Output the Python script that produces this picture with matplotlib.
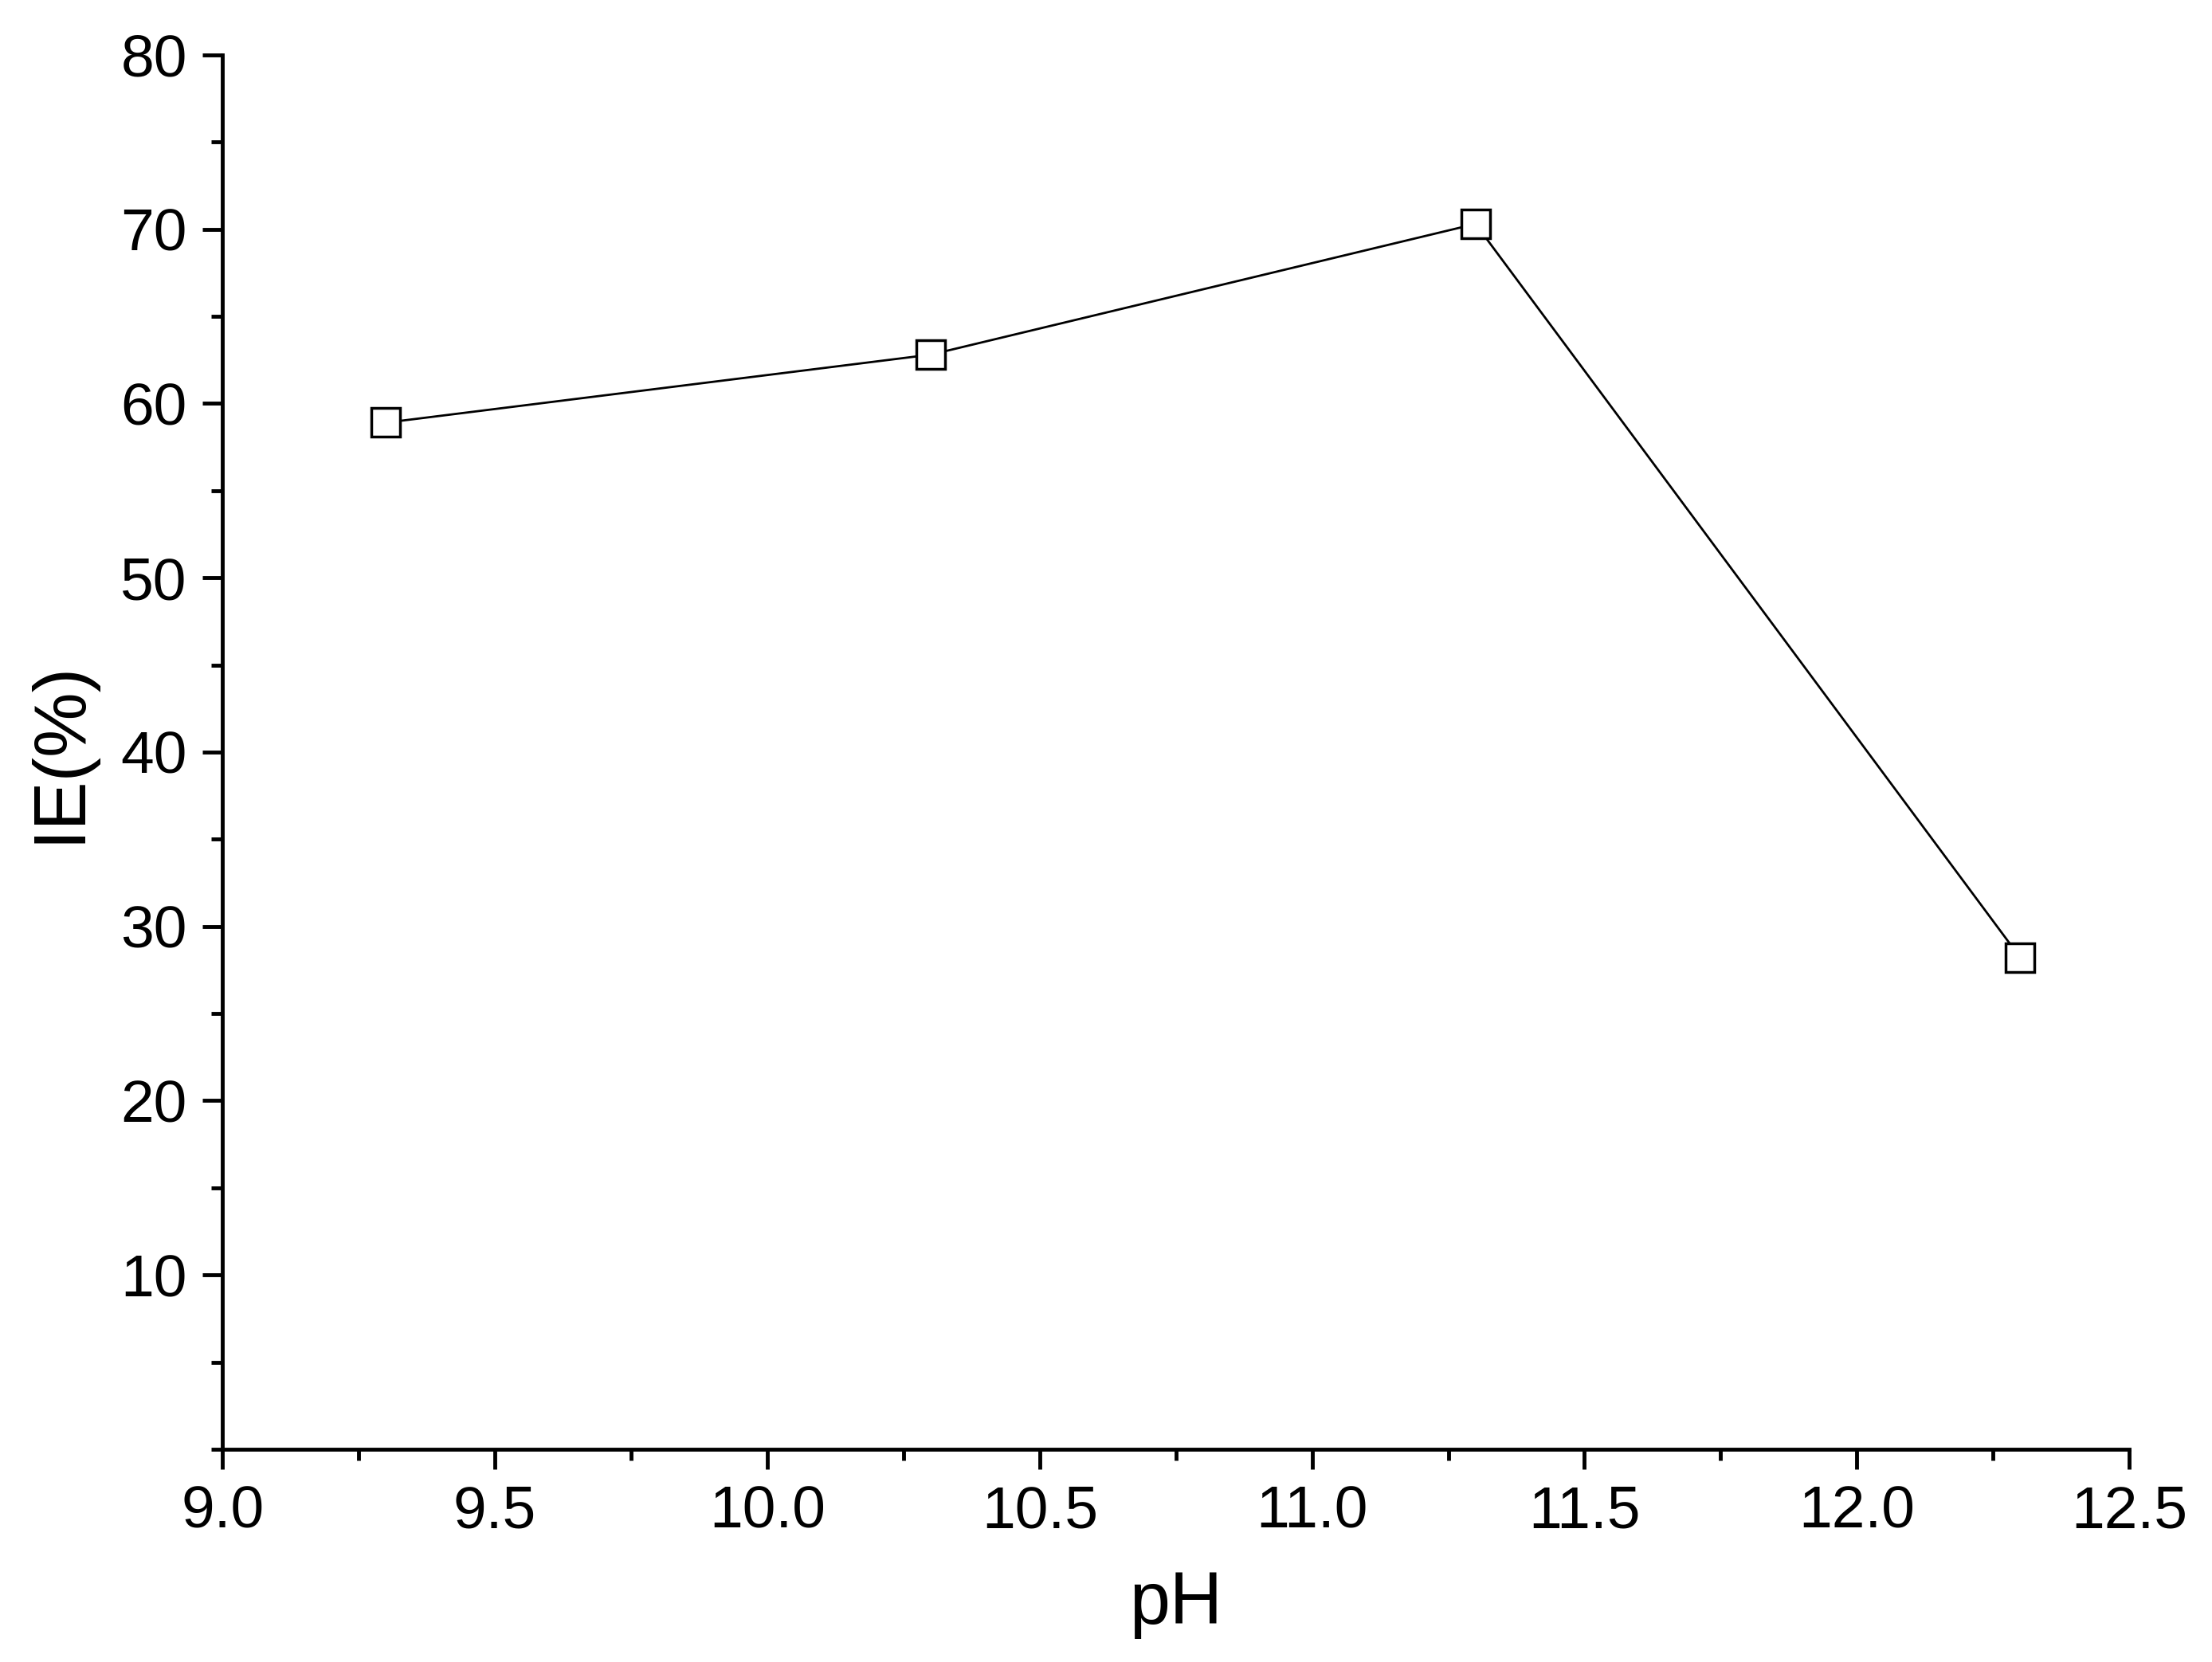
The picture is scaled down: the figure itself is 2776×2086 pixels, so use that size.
import matplotlib
matplotlib.use("Agg")
import matplotlib.pyplot as plt
from matplotlib.ticker import MultipleLocator

plt.rcParams["font.family"] = ["Liberation Sans", "DejaVu Sans"]

ph = [9.3, 10.3, 11.3, 12.3]
ie = [58.9, 62.8, 70.3, 28.2]

fig = plt.figure(figsize=(27.76, 20.86), dpi=100)
ax = fig.add_axes([0.1006, 0.128, 0.862, 0.839])
ax.plot(ph, ie, color="black", linewidth=2, marker="s", markersize=26,
        markerfacecolor="white", markeredgecolor="black", markeredgewidth=2.5)

ax.set_xlim(9.0, 12.5)
ax.set_ylim(0, 80)
ax.xaxis.set_major_locator(MultipleLocator(0.5))
ax.xaxis.set_minor_locator(MultipleLocator(0.25))
ax.set_yticks(range(10, 81, 10))
ax.yaxis.set_minor_locator(MultipleLocator(5))
ax.set_xticklabels([f"{v:.1f}" for v in ax.get_xticks()])

ax.spines[["top", "right"]].set_visible(False)
for s in ["left", "bottom"]:
    ax.spines[s].set_linewidth(3.5)
ax.tick_params(which="major", direction="out", length=18, width=3.5, labelsize=54, pad=14)
ax.tick_params(which="minor", direction="out", length=10, width=3.5)

ax.set_xlabel("pH", fontsize=66, labelpad=28)
ax.set_ylabel("IE(%)", fontsize=66, labelpad=24)

fig.savefig("out.png", dpi=100)
